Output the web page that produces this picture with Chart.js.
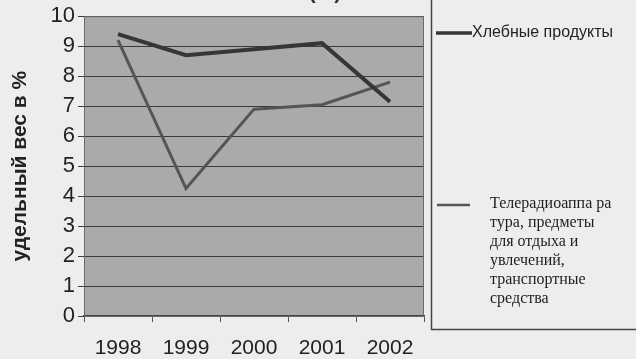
<!DOCTYPE html>
<html>
<head>
<meta charset="utf-8">
<script src="https://cdn.jsdelivr.net/npm/chart.js@4"></script>
<style>
html,body{margin:0;padding:0;background:#ededed;}
#wrap{width:636px;height:359px;position:relative;}
</style>
</head>
<body>
<div id="wrap"><canvas id="c" width="636" height="359"></canvas></div>
<script>
const years = ['1998', '1999', '2000', '2001', '2002'];
const breadProducts = [9.4, 8.7, 8.9, 9.1, 7.15];
const leisureGoods = [9.2, 4.25, 6.9, 7.05, 7.8];
const yTicks = [0, 1, 2, 3, 4, 5, 6, 7, 8, 9, 10];
const breadLabel = 'Хлебные продукты';
const leisureLabelLines = ['Телерадиоаппа ра', 'тура, предметы', 'для отдыха и', 'увлечений,', 'транспортные', 'средства'];
const yTitle = 'удельный вес в %';

const bgPlugin = {
  id: 'bg',
  beforeDraw(chart) {
    const {ctx, chartArea: a} = chart;
    ctx.save();
    ctx.fillStyle = '#ededed';
    ctx.fillRect(0, 0, chart.width, chart.height);
    ctx.fillStyle = '#aaaaaa';
    ctx.fillRect(a.left, a.top, a.right - a.left, a.bottom - a.top);
    ctx.restore();
  },
  afterDraw(chart) {
    const {ctx, chartArea: a} = chart;
    ctx.save();
    ctx.strokeStyle = '#6a6a6a';
    ctx.lineWidth = 1;
    ctx.strokeRect(a.left + 0.5, a.top + 0.5, a.right - a.left - 1, a.bottom - a.top);
    // partial title at top (cut off by the page edge)
    ctx.fillStyle = '#333';
    ctx.font = 'bold 21px "Liberation Sans", Arial, sans-serif';
    ctx.textAlign = 'center';
    ctx.textBaseline = 'alphabetic';
    ctx.fillText('(%)', 325, -1);
    // legend box
    ctx.strokeStyle = '#444';
    ctx.lineWidth = 1.5;
    ctx.beginPath();
    ctx.moveTo(431.5, 0);
    ctx.lineTo(431.5, 329.5);
    ctx.lineTo(640, 329.5);
    ctx.stroke();
    const ds = chart.data.datasets;
    ctx.strokeStyle = ds[0].borderColor;
    ctx.lineWidth = 3.5;
    ctx.beginPath(); ctx.moveTo(436, 33); ctx.lineTo(472, 33); ctx.stroke();
    ctx.fillStyle = '#222';
    ctx.font = '16px "Liberation Sans", Arial, sans-serif';
    ctx.textAlign = 'left';
    ctx.textBaseline = 'middle';
    ctx.fillText(ds[0].label, 472, 33);
    ctx.strokeStyle = ds[1].borderColor;
    ctx.lineWidth = 2.5;
    ctx.beginPath(); ctx.moveTo(437, 205); ctx.lineTo(470, 205); ctx.stroke();
    ctx.fillStyle = '#1e1e1e';
    ctx.font = '16px "Liberation Serif", "DejaVu Serif", serif';
    ds[1].legendLines.forEach((t, i) => ctx.fillText(t, 490, 204 + i * 19));
    ctx.restore();
  }
};

new Chart(document.getElementById('c'), {
  type: 'line',
  data: {
    labels: years,
    datasets: [
      {label: breadLabel, data: breadProducts, borderColor: '#363636', borderWidth: 4, pointRadius: 0, tension: 0, fill: false},
      {label: leisureLabelLines.join(' '), legendLines: leisureLabelLines, data: leisureGoods, borderColor: '#555555', borderWidth: 3, pointRadius: 0, tension: 0, fill: false}
    ]
  },
  options: {
    responsive: false,
    animation: false,
    layout: {padding: {left: 0, right: 212, top: 15, bottom: 0}},
    plugins: {legend: {display: false}, tooltip: {enabled: false}, title: {display: false}},
    scales: {
      x: {
        type: 'category',
        offset: true,
        grid: {offset: true, drawOnChartArea: false, drawTicks: true, tickLength: 6, color: '#555', lineWidth: 1},
        border: {display: true, color: '#444', width: 1.5},
        ticks: {color: '#222', font: {size: 21, family: '"Liberation Sans", Arial, sans-serif'}, padding: 14, maxRotation: 0},
        afterFit(s) { s.height = 43; }
      },
      y: {
        min: 0, max: 10,
        afterBuildTicks(s) { s.ticks = yTicks.map(v => ({value: v})); },
        grid: {color: '#3a3a3a', lineWidth: 1, tickLength: 6},
        border: {display: true, color: '#555', width: 1},
        ticks: {color: '#222', font: {size: 22, family: '"Liberation Sans", Arial, sans-serif'}, padding: 3},
        title: {display: true, text: yTitle, color: '#222', font: {size: 21, weight: 'bold', family: '"Liberation Sans", Arial, sans-serif'}, padding: {top: 8, bottom: 0}},
        afterFit(s) { s.width = 84; }
      }
    }
  },
  plugins: [bgPlugin]
});
</script>
</body>
</html>
